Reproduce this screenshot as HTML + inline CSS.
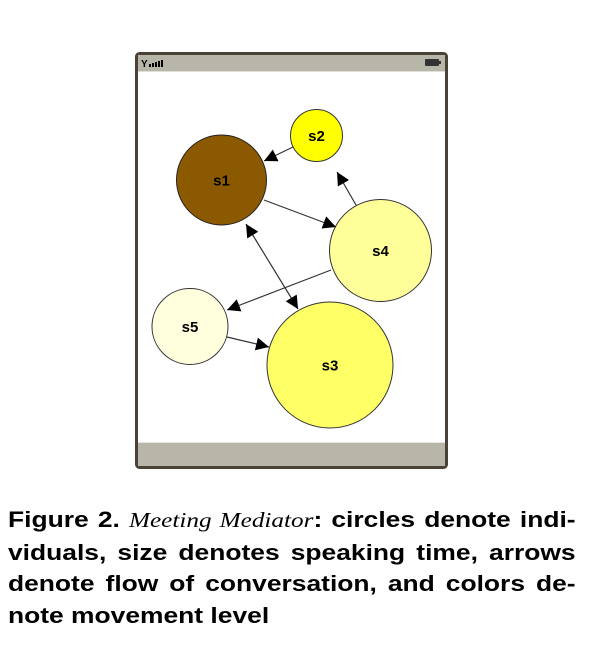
<!DOCTYPE html>
<html><head><style>
body{margin:0;width:600px;height:645px;background:#fff;position:relative;overflow:hidden}
.cap{position:absolute;left:8px;top:504px;width:473px;transform:scaleX(1.2);transform-origin:0 0;font-family:"Liberation Sans",sans-serif;font-weight:bold;font-size:22px;line-height:31.7px;color:#000}
.cap div{text-align:justify;text-align-last:justify;white-space:nowrap}
.cap div.l{text-align-last:left}
.cap i{font-family:"Liberation Serif",serif;font-weight:normal;font-size:21px}
</style></head><body>
<svg width="600" height="500" style="position:absolute;left:0;top:0">
<defs><marker id="a" viewBox="0 0 10 10" refX="10" refY="5" markerWidth="13" markerHeight="13" markerUnits="userSpaceOnUse" orient="auto"><path d="M0,0L10,5L0,10z" fill="#000"/></marker>
<marker id="b" viewBox="0 0 10 10" refX="10" refY="5" markerWidth="13" markerHeight="13" markerUnits="userSpaceOnUse" orient="auto-start-reverse"><path d="M0,0L10,5L0,10z" fill="#000"/></marker></defs>
<rect x="136.5" y="53.5" width="310" height="414" rx="3" fill="#fff" stroke="#4a4236" stroke-width="3"/>
<rect x="138" y="55" width="307" height="16" fill="#b8b6a8"/>
<line x1="138" y1="71.5" x2="445" y2="71.5" stroke="#e0e0d8"/>
<rect x="138" y="443" width="307" height="23" fill="#b8b6a8"/>
<line x1="138" y1="442.5" x2="445" y2="442.5" stroke="#e8e8e0"/>
<text x="141" y="67" font-family="Liberation Sans" font-size="10" font-weight="bold">Y</text>
<rect x="149" y="64" width="2" height="3"/><rect x="152" y="63" width="2" height="4"/><rect x="155" y="62" width="2" height="5"/><rect x="158" y="61" width="2" height="6"/><rect x="161" y="60" width="2" height="7"/>
<rect x="425" y="59" width="14" height="7" rx="1" fill="#333"/><rect x="439" y="61" width="2" height="3" fill="#333"/>
<circle cx="316.5" cy="135.5" r="26" fill="#ffff00" stroke="#333"/>
<circle cx="221.5" cy="180" r="45" fill="#8b5a00" stroke="#222"/>
<circle cx="380.5" cy="250.5" r="51" fill="#ffff99" stroke="#333"/>
<circle cx="190" cy="326.5" r="38" fill="#ffffdd" stroke="#333"/>
<circle cx="330" cy="365" r="63" fill="#ffff66" stroke="#333"/>
<g stroke="#333" stroke-width="1.2">
<line x1="293" y1="147" x2="264" y2="161" marker-end="url(#a)"/>
<line x1="356" y1="205" x2="337" y2="172" marker-end="url(#a)"/>
<line x1="264" y1="200" x2="336" y2="227" marker-end="url(#a)"/>
<line x1="331" y1="270" x2="227" y2="310" marker-end="url(#a)"/>
<line x1="227" y1="337" x2="269" y2="347" marker-end="url(#a)"/>
<line x1="246" y1="224" x2="298" y2="309" marker-start="url(#b)" marker-end="url(#b)"/>
</g>
<g font-family="Liberation Sans" font-weight="bold" font-size="15" text-anchor="middle">
<text x="316.5" y="141">s2</text><text x="221.5" y="185.5">s1</text><text x="380.5" y="256">s4</text><text x="190" y="332">s5</text><text x="330" y="370.5">s3</text>
</g>
</svg>
<div class="cap">
<div>Figure 2. <i>Meeting Mediator</i>: circles denote indi-</div>
<div>viduals, size denotes speaking time, arrows</div>
<div>denote flow of conversation, and colors de-</div>
<div class="l">note movement level</div>
</div>
</body></html>
